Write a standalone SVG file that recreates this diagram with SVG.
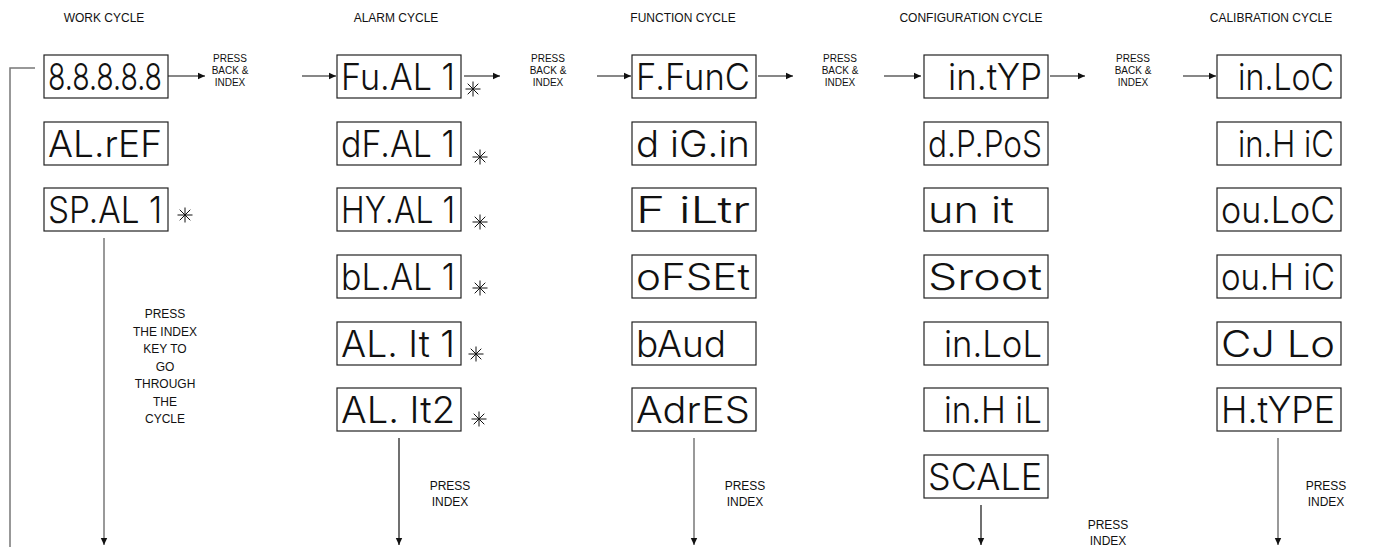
<svg xmlns="http://www.w3.org/2000/svg" width="1375" height="547" viewBox="0 0 1375 547">
<style>
.t{font-family:"Liberation Sans",Arial,sans-serif;fill:#111;}
.title{font-size:12px;text-anchor:middle;}
.sm{font-size:10px;text-anchor:middle;}
.lbl{font-size:12px;text-anchor:middle;}
.box{fill:#fff;stroke:#222;stroke-width:1.2;}
.disp{font-family:Inter,"DejaVu Sans Mono",monospace;font-weight:300;font-size:37px;fill:#111;}
.c{stroke:#111;stroke-width:1.2;fill:none;}
.g{stroke:#777;stroke-width:1.5;fill:none;}
</style>
<defs>
<marker id="ah" markerWidth="8" markerHeight="8" refX="7" refY="4" orient="auto" markerUnits="userSpaceOnUse">
<path d="M0,0.8 L7,4 L0,7.2 Z" fill="#111"/>
</marker>
<g id="ast" stroke="#111" stroke-width="1" fill="none">
<line x1="0" y1="-7.5" x2="0" y2="7.5"/>
<line x1="-7.5" y1="0" x2="7.5" y2="0"/>
<line x1="-5.3" y1="-5.3" x2="5.3" y2="5.3"/>
<line x1="-5.3" y1="5.3" x2="5.3" y2="-5.3"/>
</g>
</defs>

<g id="titles">
<text class="t title" x="104" y="22">WORK CYCLE</text>
<text class="t title" x="396" y="22">ALARM CYCLE</text>
<text class="t title" x="683" y="22">FUNCTION CYCLE</text>
<text class="t title" x="971" y="22">CONFIGURATION CYCLE</text>
<text class="t title" x="1271" y="22">CALIBRATION CYCLE</text>
</g>

<g id="connectors">
<line class="c" x1="168" y1="76" x2="205" y2="76" marker-end="url(#ah)"/>
<line class="c" x1="302" y1="76" x2="336" y2="76" marker-end="url(#ah)"/>
<line class="c" x1="464" y1="76" x2="500" y2="76" marker-end="url(#ah)"/>
<line class="c" x1="597" y1="76" x2="631" y2="76" marker-end="url(#ah)"/>
<line class="c" x1="758" y1="76" x2="793" y2="76" marker-end="url(#ah)"/>
<line class="c" x1="884" y1="76" x2="921" y2="76" marker-end="url(#ah)"/>
<line class="c" x1="1050" y1="76" x2="1085" y2="76" marker-end="url(#ah)"/>
<line class="c" x1="1183" y1="76" x2="1216" y2="76" marker-end="url(#ah)"/>
<polyline class="g" points="35,68 10,68 10,547"/>
<line class="g" x1="104" y1="238" x2="104" y2="545" marker-end="url(#ah)"/>
<line class="c" x1="399" y1="438" x2="399" y2="545" marker-end="url(#ah)"/>
<line class="g" x1="694" y1="438" x2="694" y2="545" marker-end="url(#ah)"/>
<line class="c" x1="981" y1="505" x2="981" y2="545" marker-end="url(#ah)"/>
<line class="g" x1="1278" y1="438" x2="1278" y2="545" marker-end="url(#ah)"/>
</g>

<g id="labels">
<text class="t sm" x="230" y="62">PRESS</text>
<text class="t sm" x="230" y="74">BACK &amp;</text>
<text class="t sm" x="230" y="86">INDEX</text>
<text class="t sm" x="548" y="62">PRESS</text>
<text class="t sm" x="548" y="74">BACK &amp;</text>
<text class="t sm" x="548" y="86">INDEX</text>
<text class="t sm" x="840" y="62">PRESS</text>
<text class="t sm" x="840" y="74">BACK &amp;</text>
<text class="t sm" x="840" y="86">INDEX</text>
<text class="t sm" x="1133" y="62">PRESS</text>
<text class="t sm" x="1133" y="74">BACK &amp;</text>
<text class="t sm" x="1133" y="86">INDEX</text>
<text class="t lbl" x="165" y="318">PRESS</text>
<text class="t lbl" x="165" y="335.5">THE INDEX</text>
<text class="t lbl" x="165" y="353">KEY TO</text>
<text class="t lbl" x="165" y="370.5">GO</text>
<text class="t lbl" x="165" y="388">THROUGH</text>
<text class="t lbl" x="165" y="405.5">THE</text>
<text class="t lbl" x="165" y="423">CYCLE</text>
<text class="t lbl" x="450" y="490">PRESS</text>
<text class="t lbl" x="450" y="506">INDEX</text>
<text class="t lbl" x="745" y="490">PRESS</text>
<text class="t lbl" x="745" y="506">INDEX</text>
<text class="t lbl" x="1108" y="529">PRESS</text>
<text class="t lbl" x="1108" y="545">INDEX</text>
<text class="t lbl" x="1326" y="490">PRESS</text>
<text class="t lbl" x="1326" y="506">INDEX</text>
</g>

<g id="work">
<g id="w1"><rect class="box" x="44" y="55" width="124" height="43"/><text class="disp" x="48" y="90" textLength="114" lengthAdjust="spacingAndGlyphs">8.8.8.8.8</text></g>
<g id="w2"><rect class="box" x="44" y="122" width="124" height="43"/><text class="disp" x="48" y="157" textLength="114" lengthAdjust="spacingAndGlyphs">AL.rEF</text></g>
<g id="w3"><rect class="box" x="44" y="188" width="124" height="43"/><text class="disp" x="48" y="223" textLength="114" lengthAdjust="spacingAndGlyphs">SP.AL 1</text><use href="#ast" x="185" y="215"/></g>
</g>

<g id="alarm">
<g id="a1"><rect class="box" x="337" y="55" width="124" height="43"/><text class="disp" x="341" y="90" textLength="114" lengthAdjust="spacingAndGlyphs">Fu.AL 1</text><use href="#ast" x="473" y="89"/></g>
<g id="a2"><rect class="box" x="337" y="122" width="124" height="43"/><text class="disp" x="341" y="157" textLength="114" lengthAdjust="spacingAndGlyphs">dF.AL 1</text><use href="#ast" x="480" y="157"/></g>
<g id="a3"><rect class="box" x="337" y="188" width="124" height="43"/><text class="disp" x="341" y="223" textLength="114" lengthAdjust="spacingAndGlyphs">HY.AL 1</text><use href="#ast" x="480" y="222"/></g>
<g id="a4"><rect class="box" x="337" y="255" width="124" height="43"/><text class="disp" x="341" y="290" textLength="114" lengthAdjust="spacingAndGlyphs">bL.AL 1</text><use href="#ast" x="480" y="288"/></g>
<g id="a5"><rect class="box" x="337" y="322" width="124" height="43"/><text class="disp" x="341" y="357" textLength="114" lengthAdjust="spacingAndGlyphs">AL. It 1</text><use href="#ast" x="476" y="354"/></g>
<g id="a6"><rect class="box" x="337" y="388" width="124" height="43"/><text class="disp" x="341" y="423" textLength="114" lengthAdjust="spacingAndGlyphs">AL. It2</text><use href="#ast" x="479" y="419"/></g>
</g>

<g id="function">
<g id="f1"><rect class="box" x="632" y="55" width="124" height="43"/><text class="disp" x="636" y="90" textLength="114" lengthAdjust="spacingAndGlyphs">F.FunC</text></g>
<g id="f2"><rect class="box" x="632" y="122" width="124" height="43"/><text class="disp" x="636" y="157" textLength="114" lengthAdjust="spacingAndGlyphs">d iG.in</text></g>
<g id="f3"><rect class="box" x="632" y="188" width="124" height="43"/><text class="disp" x="636" y="223" textLength="114" lengthAdjust="spacingAndGlyphs">F iLtr</text></g>
<g id="f4"><rect class="box" x="632" y="255" width="124" height="43"/><text class="disp" x="636" y="290" textLength="114" lengthAdjust="spacingAndGlyphs">oFSEt</text></g>
<g id="f5"><rect class="box" x="632" y="322" width="124" height="43"/><text class="disp" x="636" y="357" textLength="90" lengthAdjust="spacingAndGlyphs">bAud</text></g>
<g id="f6"><rect class="box" x="632" y="388" width="124" height="43"/><text class="disp" x="636" y="423" textLength="114" lengthAdjust="spacingAndGlyphs">AdrES</text></g>
</g>

<g id="configuration">
<g id="c1"><rect class="box" x="924" y="55" width="124" height="43"/><text class="disp" x="948" y="90" textLength="94" lengthAdjust="spacingAndGlyphs">in.tYP</text></g>
<g id="c2"><rect class="box" x="924" y="122" width="124" height="43"/><text class="disp" x="928" y="157" textLength="114" lengthAdjust="spacingAndGlyphs">d.P.PoS</text></g>
<g id="c3"><rect class="box" x="924" y="188" width="124" height="43"/><text class="disp" x="928" y="223" textLength="86" lengthAdjust="spacingAndGlyphs">un it</text></g>
<g id="c4"><rect class="box" x="924" y="255" width="124" height="43"/><text class="disp" x="928" y="290" textLength="114" lengthAdjust="spacingAndGlyphs">Sroot</text></g>
<g id="c5"><rect class="box" x="924" y="322" width="124" height="43"/><text class="disp" x="944" y="357" textLength="98" lengthAdjust="spacingAndGlyphs">in.LoL</text></g>
<g id="c6"><rect class="box" x="924" y="388" width="124" height="43"/><text class="disp" x="944" y="423" textLength="98" lengthAdjust="spacingAndGlyphs">in.H iL</text></g>
<g id="c7"><rect class="box" x="924" y="455" width="124" height="43"/><text class="disp" x="928" y="490" textLength="114" lengthAdjust="spacingAndGlyphs">SCALE</text></g>
</g>

<g id="calibration">
<g id="k1"><rect class="box" x="1217" y="55" width="124" height="43"/><text class="disp" x="1238" y="90" textLength="96" lengthAdjust="spacingAndGlyphs">in.LoC</text></g>
<g id="k2"><rect class="box" x="1217" y="122" width="124" height="43"/><text class="disp" x="1238" y="157" textLength="96" lengthAdjust="spacingAndGlyphs">in.H iC</text></g>
<g id="k3"><rect class="box" x="1217" y="188" width="124" height="43"/><text class="disp" x="1221" y="223" textLength="114" lengthAdjust="spacingAndGlyphs">ou.LoC</text></g>
<g id="k4"><rect class="box" x="1217" y="255" width="124" height="43"/><text class="disp" x="1221" y="290" textLength="114" lengthAdjust="spacingAndGlyphs">ou.H iC</text></g>
<g id="k5"><rect class="box" x="1217" y="322" width="124" height="43"/><text class="disp" x="1221" y="357" textLength="114" lengthAdjust="spacingAndGlyphs">CJ Lo</text></g>
<g id="k6"><rect class="box" x="1217" y="388" width="124" height="43"/><text class="disp" x="1221" y="423" textLength="114" lengthAdjust="spacingAndGlyphs">H.tYPE</text></g>
</g>
</svg>
